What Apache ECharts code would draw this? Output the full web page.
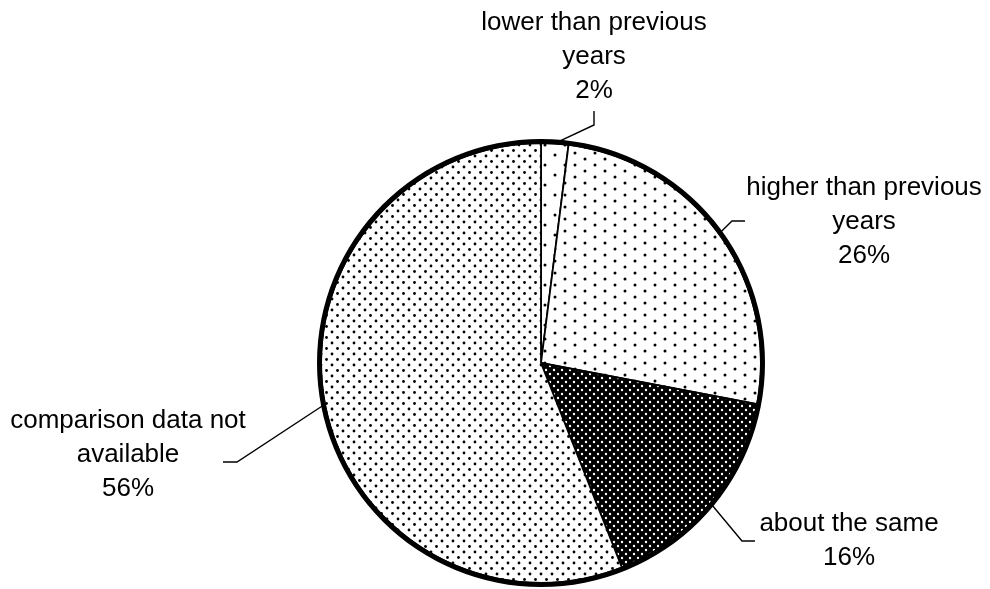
<!DOCTYPE html>
<html>
<head>
<meta charset="utf-8">
<script src="https://cdn.jsdelivr.net/npm/echarts@6/dist/echarts.min.js"></script>
<style>
  html, body { margin: 0; padding: 0; background: #fff; }
  #chart { width: 990px; height: 589px; }
</style>
</head>
<body>
<div id="chart"></div>
<script>
// slices, clockwise from 12 o'clock
const categories = [
  'lower than previous\nyears',
  'higher than previous\nyears',
  'about the same',
  'comparison data not\navailable'
];
const shares = [2, 26, 16, 56];

// label centres and leader bend/end points (layout only)
const labelPos = [[594, 57], [864, 222], [849, 541], [128, 455]];
const leaderBend = [[594, 125], [732, 221], [742, 541], [237, 462]];
const leaderEnd = [[594, 111], [745, 221], [755, 541], [223, 462]];

// dot fill patterns
function dots(w, h, pts, r, fg, bg) {
  const c = document.createElement('canvas');
  c.width = w; c.height = h;
  const ctx = c.getContext('2d');
  ctx.fillStyle = bg;
  ctx.fillRect(0, 0, w, h);
  ctx.fillStyle = fg;
  pts.forEach(([x, y]) => {
    ctx.beginPath();
    ctx.arc(x, y, r, 0, Math.PI * 2);
    ctx.fill();
  });
  return c;
}
const patterns = [
  dots(20, 20, [[5, 5], [15, 15]], 1.5, '#000', '#fff'),
  dots(20, 12, [[5, 3], [15, 9]], 1.5, '#000', '#fff'),
  dots(8, 8, [[2, 2], [6, 6]], 1.2, '#fff', '#000'),
  dots(11, 11, [[2, 2], [7.5, 7.5]], 1.4, '#000', '#fff')
];

const chart = echarts.init(document.getElementById('chart'), null, { renderer: 'canvas' });

chart.setOption({
  backgroundColor: '#fff',
  animation: false,
  series: [
    {
      type: 'pie',
      center: [541, 363],
      radius: 220,
      startAngle: 90,
      clockwise: true,
      silent: true,
      data: categories.map((name, i) => ({
        name: name,
        value: shares[i],
        itemStyle: { color: { image: patterns[i], repeat: 'repeat' } }
      })),
      itemStyle: { borderColor: '#000', borderWidth: 1.8 },
      label: {
        show: true,
        formatter: p => p.name + '\n' + p.value + '%',
        fontFamily: 'Liberation Sans, Arial, sans-serif',
        fontSize: 26,
        lineHeight: 34,
        color: '#000',
        align: 'center',
        overflow: 'none',
        width: 320
      },
      labelLine: {
        show: true,
        lineStyle: { color: '#000', width: 1.4 }
      },
      labelLayout: function (params) {
        const i = params.dataIndex;
        const start = params.labelLinePoints ? params.labelLinePoints[0] : leaderBend[i];
        return {
          x: labelPos[i][0],
          y: labelPos[i][1],
          align: 'center',
          verticalAlign: 'middle',
          labelLinePoints: [start, leaderBend[i], leaderEnd[i]]
        };
      }
    },
    {
      // thick outer rim
      type: 'pie',
      center: [541, 363],
      radius: [219, 224],
      silent: true,
      label: { show: false },
      labelLine: { show: false },
      itemStyle: { color: '#000' },
      data: [{ value: 1 }]
    }
  ]
});
</script>
</body>
</html>
